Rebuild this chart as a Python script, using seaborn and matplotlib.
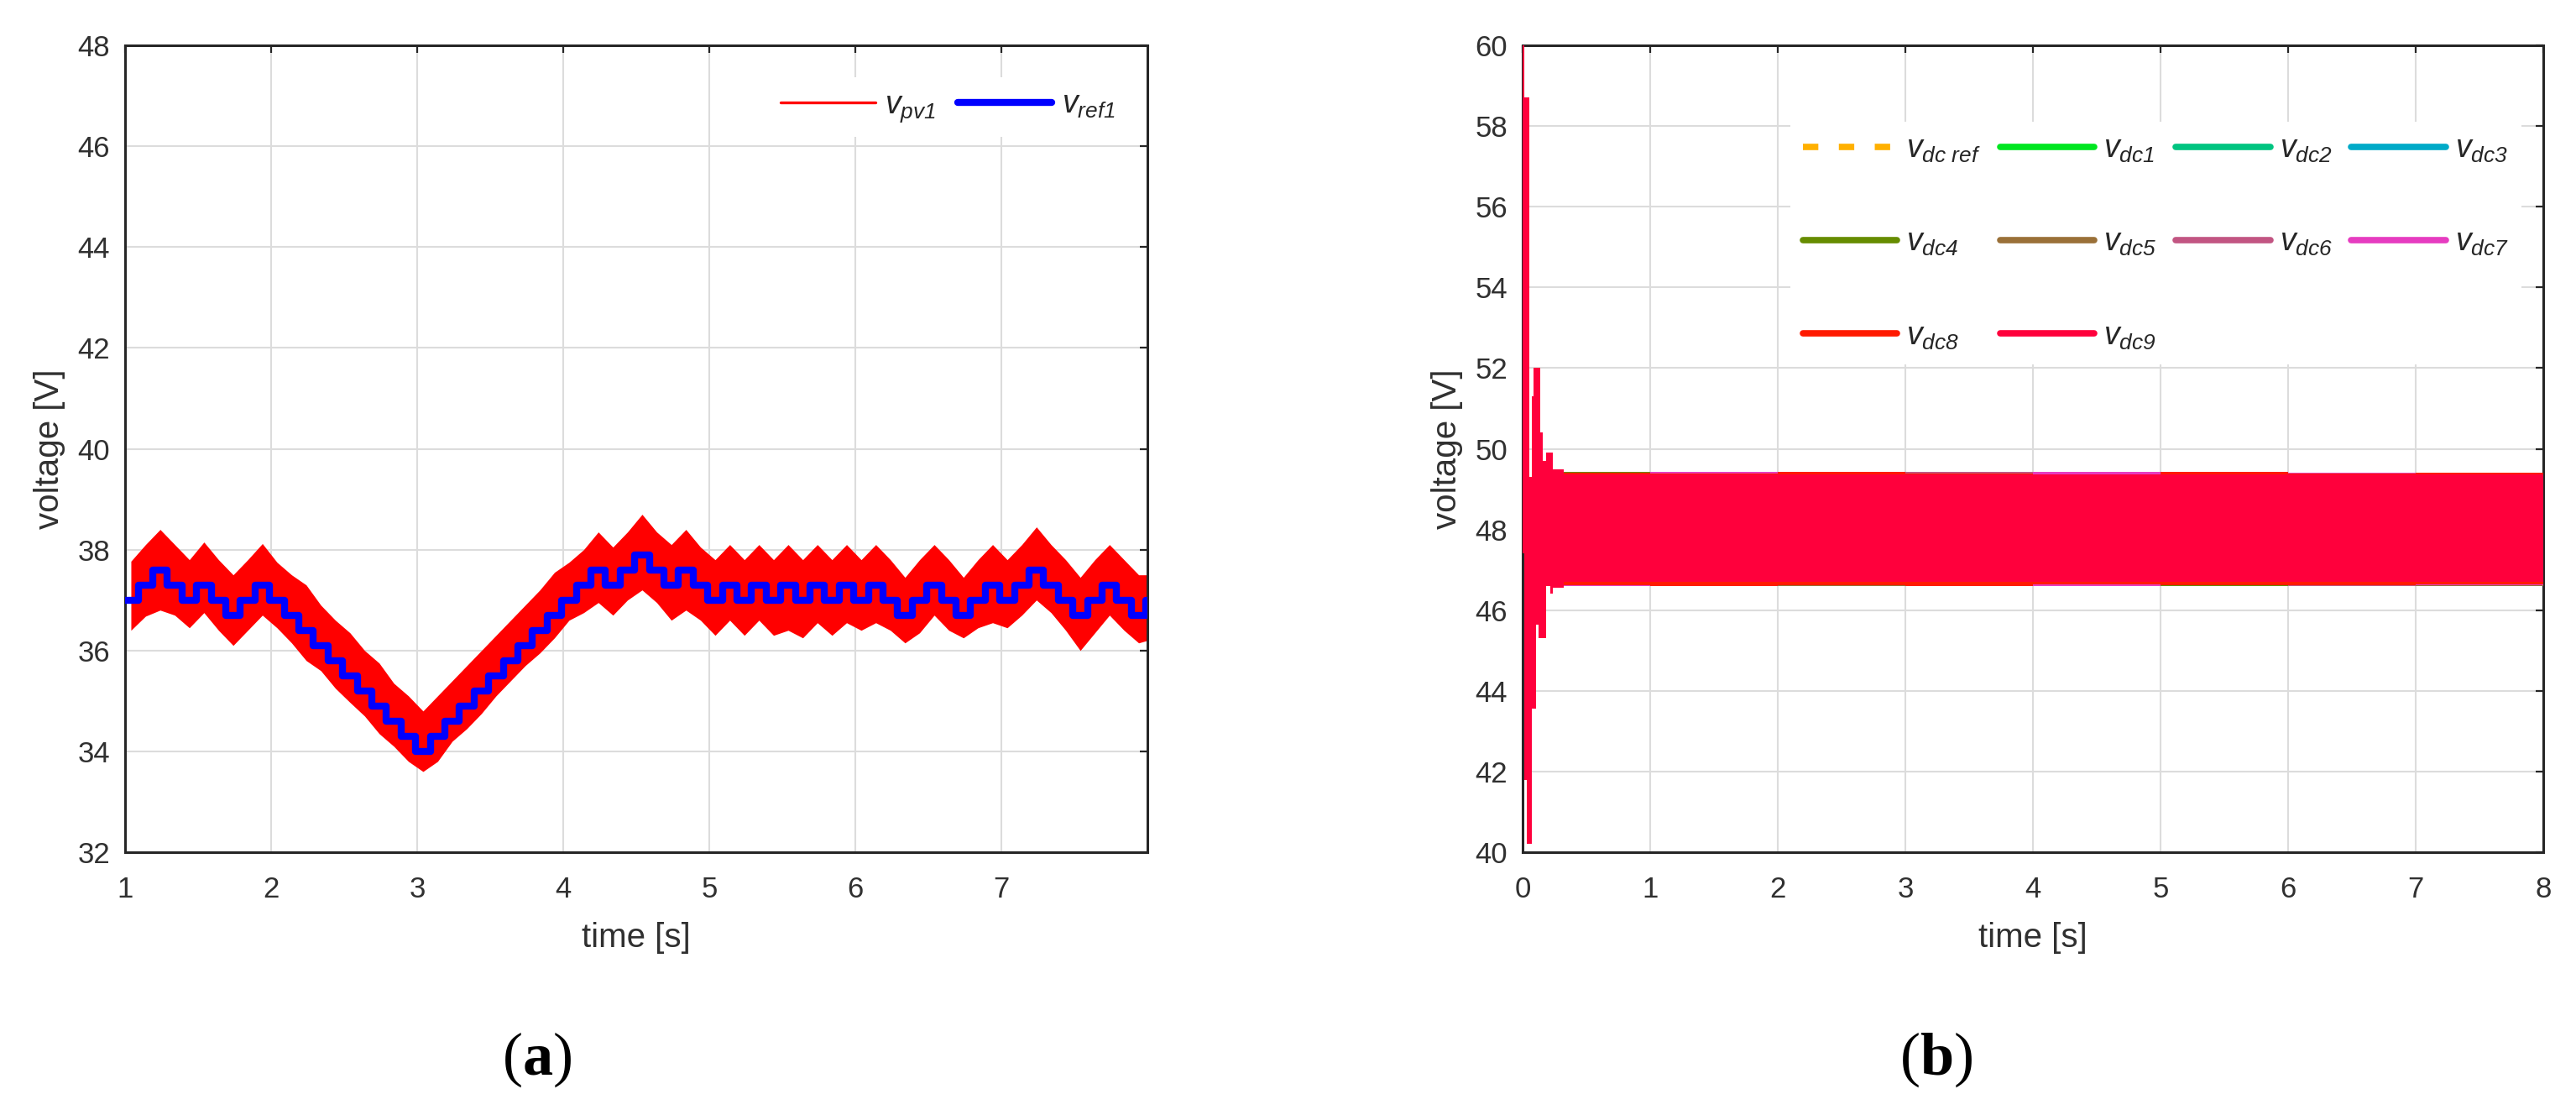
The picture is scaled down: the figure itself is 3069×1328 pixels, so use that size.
import numpy as np
import pandas as pd
import matplotlib
matplotlib.use('Agg')
import matplotlib.pyplot as plt
from matplotlib.lines import Line2D
import seaborn as sns

# ==========================================
# DATA
# ==========================================
# (a) MPPT reference, one value per 0.1 s step starting at t = 0.99 s
vref1 = [37.0, 37.3, 37.6, 37.3, 37.0, 37.3, 37.0, 36.7, 37.0, 37.3,
         37.0, 36.7, 36.4, 36.1, 35.8, 35.5, 35.2, 34.9, 34.6, 34.3,
         34.0, 34.3, 34.6, 34.9, 35.2, 35.5, 35.8, 36.1, 36.4, 36.7,
         37.0, 37.3, 37.6, 37.3, 37.6, 37.9, 37.6, 37.3, 37.6, 37.3,
         37.0, 37.3, 37.0, 37.3, 37.0, 37.3, 37.0, 37.3, 37.0, 37.3,
         37.0, 37.3, 37.0, 36.7, 37.0, 37.3, 37.0, 36.7, 37.0, 37.3,
         37.0, 37.3, 37.6, 37.3, 37.0, 36.7, 37.0, 37.3, 37.0, 36.7, 37.0]

# (a) envelope of the PV voltage ripple, one max/min per step
vpv1_hi = [37.77, 38.10, 38.40, 38.10, 37.80, 38.15, 37.80, 37.50, 37.80, 38.12,
           37.75, 37.50, 37.30, 36.90, 36.60, 36.35, 36.00, 35.75, 35.35, 35.10,
           34.80, 35.10, 35.40, 35.70, 36.00, 36.30, 36.60, 36.90, 37.20, 37.55,
           37.75, 38.00, 38.35, 38.05, 38.35, 38.70, 38.35, 38.10, 38.40, 38.05,
           37.80, 38.10, 37.80, 38.10, 37.80, 38.10, 37.80, 38.10, 37.80, 38.10,
           37.80, 38.10, 37.80, 37.45, 37.80, 38.10, 37.80, 37.45, 37.80, 38.10,
           37.80, 38.10, 38.45, 38.10, 37.80, 37.45, 37.80, 38.10, 37.80, 37.50, 37.50]
vpv1_lo = [36.40, 36.68, 36.80, 36.70, 36.45, 36.75, 36.40, 36.10, 36.40, 36.70,
           36.45, 36.15, 35.80, 35.60, 35.25, 34.97, 34.70, 34.35, 34.10, 33.80,
           33.60, 33.80, 34.20, 34.45, 34.75, 35.10, 35.40, 35.70, 35.95, 36.25,
           36.60, 36.75, 36.95, 36.70, 37.00, 37.20, 36.95, 36.60, 36.80, 36.60,
           36.30, 36.60, 36.30, 36.60, 36.30, 36.40, 36.25, 36.55, 36.30, 36.55,
           36.40, 36.55, 36.40, 36.15, 36.35, 36.70, 36.40, 36.25, 36.45, 36.55,
           36.45, 36.70, 37.00, 36.75, 36.40, 36.00, 36.35, 36.70, 36.40, 36.15, 36.20]

# (b) dc-link voltages: start-up transient envelope (step starts in s)
dc_t_tr = [0.0, 0.013, 0.035, 0.05, 0.072, 0.088, 0.106, 0.128, 0.139, 0.161, 0.183, 0.216, 0.238]
dc_hi_tr = [60.5, 58.7, 58.7, 49.3, 51.3, 52.0, 52.0, 52.0, 50.4, 49.7, 49.9, 49.9, 49.5]
dc_lo_tr = [47.4, 41.8, 40.2, 40.2, 43.55, 43.55, 45.65, 45.3, 45.3, 45.3, 46.6, 46.4, 46.55]

# (b) steady-state ripple envelope per series, one value per second-block
dc_t_ss = [0.32, 1, 2, 3, 4, 5, 6, 7]
dc_hi_ss = [
    [49.40, 49.38, 49.37, 49.41, 49.38, 49.39, 49.40, 49.38],  # vdc1
    [49.38, 49.40, 49.39, 49.37, 49.41, 49.38, 49.37, 49.40],  # vdc2
    [49.39, 49.37, 49.41, 49.38, 49.37, 49.41, 49.38, 49.39],  # vdc3
    [49.42, 49.39, 49.38, 49.40, 49.39, 49.37, 49.41, 49.38],  # vdc4
    [49.37, 49.41, 49.38, 49.39, 49.40, 49.38, 49.39, 49.41],  # vdc5
    [49.39, 49.38, 49.40, 49.42, 49.38, 49.40, 49.38, 49.37],  # vdc6
    [49.38, 49.42, 49.39, 49.38, 49.42, 49.39, 49.40, 49.39],  # vdc7
    [49.41, 49.39, 49.42, 49.39, 49.37, 49.42, 49.39, 49.40],  # vdc8
    [49.36, 49.36, 49.36, 49.36, 49.36, 49.36, 49.36, 49.36],  # vdc9
]
dc_lo_ss = [
    [46.64, 46.66, 46.62, 46.67, 46.65, 46.61, 46.66, 46.63],  # vdc1
    [46.66, 46.62, 46.66, 46.64, 46.62, 46.65, 46.61, 46.66],  # vdc2
    [46.62, 46.65, 46.64, 46.66, 46.63, 46.62, 46.65, 46.61],  # vdc3
    [46.65, 46.61, 46.66, 46.62, 46.66, 46.60, 46.63, 46.65],  # vdc4
    [46.61, 46.64, 46.60, 46.65, 46.61, 46.64, 46.62, 46.60],  # vdc5
    [46.63, 46.62, 46.65, 46.61, 46.64, 46.66, 46.60, 46.64],  # vdc6
    [46.60, 46.65, 46.63, 46.62, 46.60, 46.63, 46.64, 46.62],  # vdc7
    [46.62, 46.60, 46.61, 46.60, 46.63, 46.62, 46.61, 46.63],  # vdc8
    [46.70, 46.70, 46.70, 46.70, 46.70, 46.70, 46.70, 46.70],  # vdc9
]
dc_ref_t = [0.0, 8.0]
dc_ref_v = [48.0, 48.0]

dc_names = ['dc1', 'dc2', 'dc3', 'dc4', 'dc5', 'dc6', 'dc7', 'dc8', 'dc9']
dc_colors = ['#00E620', '#00C480', '#00AAC8', '#668C00', '#9A7038',
             '#C25582', '#E63CC0', '#FF1A00', '#FF003C']
ref_color = '#FFB000'

# ==========================================
# STYLE
# ==========================================
sns.set_theme(style='white')
plt.rcParams['font.family'] = ['Liberation Sans', 'DejaVu Sans']
plt.rcParams['mathtext.fontset'] = 'custom'
plt.rcParams['mathtext.it'] = 'Liberation Sans:italic'
plt.rcParams['mathtext.sf'] = 'Liberation Sans:italic'
plt.rcParams['mathtext.rm'] = 'Liberation Serif'
plt.rcParams['mathtext.bf'] = 'Liberation Serif:bold'

W, H = 3069, 1328
TICK_FS = 25
LABEL_FS = 29
LEG_FS = 27
AX_COL = '#262626'


def style_axes(ax):
    ax.set_axisbelow(True)
    ax.grid(True, color='#dcdcdc', lw=1.5)
    for s in ax.spines.values():
        s.set_color(AX_COL)
        s.set_linewidth(2.2)
    ax.tick_params(direction='in', length=6.5, width=1.6, colors=AX_COL,
                   top=True, right=True, labelsize=TICK_FS, labelcolor='#303030')
    ax.tick_params(axis='x', pad=20)
    ax.tick_params(axis='y', pad=13)
    ax.set_xlabel('time [s]', fontsize=LABEL_FS, color='#303030', labelpad=16)
    ax.set_ylabel('voltage [V]', fontsize=LABEL_FS, color='#303030', labelpad=10)


def sub_label(name):
    return r'$\mathit{v}_{\mathsf{%s}}$' % name


fig = plt.figure(figsize=(W / 100, H / 100), dpi=100)

# ==========================================
# (a) PV voltage
# ==========================================
ax1 = fig.add_axes([149 / W, 1 - 1015 / H, (1367 - 149) / W, (1015 - 54) / H])
t_step = np.round(0.99 + 0.1 * np.arange(len(vref1) + 1), 2)
ref_df = pd.DataFrame({'time': t_step, 'vref1': vref1 + vref1[-1:]})
t_env = np.clip(1.04 + 0.1 * np.arange(len(vpv1_hi)), 1.0, 8.0)

ax1.fill_between(t_env, vpv1_lo, vpv1_hi, color='#FF0000', lw=0, zorder=2)
sns.lineplot(data=ref_df, x='time', y='vref1', drawstyle='steps-post',
             color='#0000FF', lw=6, ax=ax1, zorder=3)
ax1.set_xlim(1, 8)
ax1.set_ylim(32, 48)
ax1.set_xticks(range(1, 8))
ax1.set_yticks(range(32, 49, 2))
style_axes(ax1)

h1 = [Line2D([], [], color='#FF0000', lw=2.4), Line2D([], [], color='#0000FF', lw=6)]
ax1.legend(h1, [sub_label('pv1'), sub_label('ref1')],
           ncol=2, loc='upper right', bbox_to_anchor=(0.996, 0.98),
           fontsize=LEG_FS, frameon=True, facecolor='white', edgecolor='none',
           framealpha=1, fancybox=False, handlelength=3.0, handletextpad=0.3,
           columnspacing=0.7)

# ==========================================
# (b) dc-link voltages
# ==========================================
ax2 = fig.add_axes([1814 / W, 1 - 1015 / H, (3030 - 1814) / W, (1015 - 54) / H])
sns.lineplot(x=dc_ref_t, y=dc_ref_v, color=ref_color, lw=5.5, ax=ax2,
             linestyle=(0, (2.4, 3.2)), zorder=2)
for i, name in enumerate(dc_names):
    tt = dc_t_tr + dc_t_ss + [8.0]
    hi = dc_hi_tr + dc_hi_ss[i] + dc_hi_ss[i][-1:]
    lo = dc_lo_tr + dc_lo_ss[i] + dc_lo_ss[i][-1:]
    ax2.fill_between(tt, lo, hi, step='post', color=dc_colors[i], lw=0, zorder=3)
ax2.set_xlim(0, 8)
ax2.set_ylim(40, 60)
ax2.set_xticks(range(0, 9))
ax2.set_yticks(range(40, 61, 2))
style_axes(ax2)

h2 = [Line2D([], [], color=ref_color, lw=5.5, linestyle=(0, (2.4, 3.2)))]
h2 += [Line2D([], [], color=c, lw=5.5) for c in dc_colors]
lab2 = [r'$\mathit{v}_{\mathsf{dc\ ref}}$'] + [sub_label(n) for n in dc_names]
# matplotlib fills legend column-wise, reorder so rows read like the original
order = [0, 4, 8, 1, 5, 9, 2, 6, 3, 7]
h2o = [h2[k] for k in order]
lab2o = [lab2[k] for k in order]
ax2.legend(h2o, lab2o, ncol=4, loc='upper right', bbox_to_anchor=(0.994, 0.925),
           fontsize=LEG_FS, frameon=True, facecolor='white', edgecolor='none',
           framealpha=1, fancybox=False, handlelength=3.0, handletextpad=0.3,
           columnspacing=0.6, labelspacing=2.0)

# sub-figure captions
fig.text(640 / W, 1 - 1262 / H, r'$\mathrm{(}\mathbf{a}\mathrm{)}$', fontsize=52,
         ha='center', va='center', color='black')
fig.text(2307 / W, 1 - 1262 / H, r'$\mathrm{(}\mathbf{b}\mathrm{)}$', fontsize=52,
         ha='center', va='center', color='black')

fig.savefig('out.png', dpi=100, facecolor='white')
